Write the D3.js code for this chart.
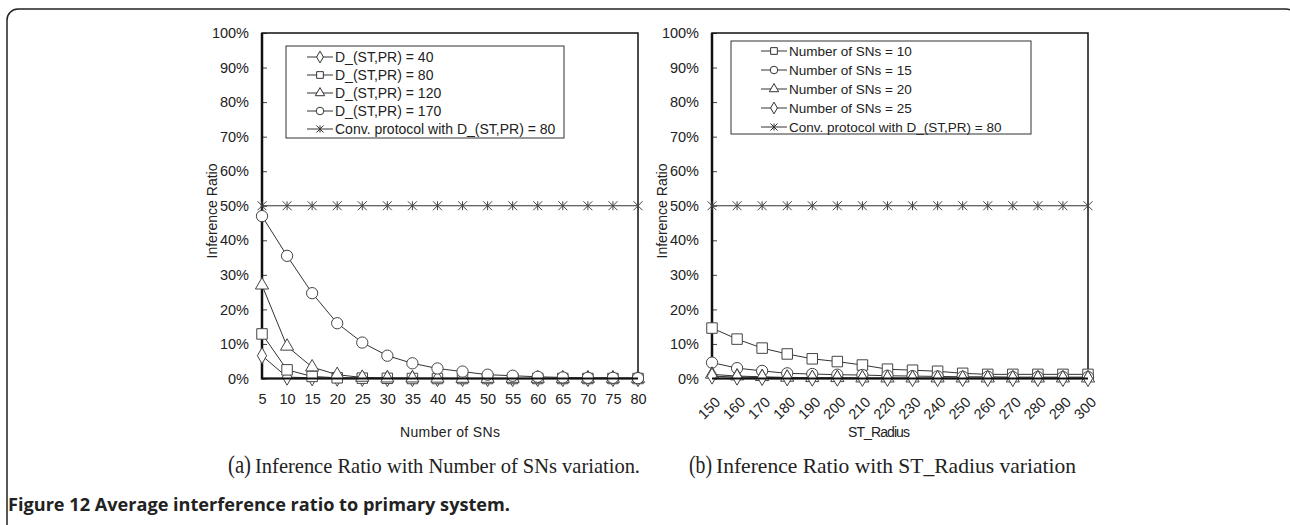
<!DOCTYPE html>
<html>
<head>
<meta charset="utf-8">
<script src="https://cdn.jsdelivr.net/npm/d3@7"></script>
<style>
  body { margin: 0; background: #fff; }
  svg text { font-family: "Liberation Sans", Arial, sans-serif; fill: #222; }
</style>
</head>
<body>
<div id="chart"></div>
<script>
// data (values in %)
var snCounts = [5, 10, 15, 20, 25, 30, 35, 40, 45, 50, 55, 60, 65, 70, 75, 80];
var d40  = [6.6, 0.4, 0.2, 0.1, 0.05, 0, 0, 0, 0, 0, 0, 0, 0, 0, 0, 0];
var d80  = [12.9, 2.5, 0.6, 0.2, 0.1, 0.05, 0, 0, 0, 0, 0, 0, 0, 0, 0, 0];
var d120 = [27, 9.3, 3.3, 1.1, 0.3, 0.1, 0.1, 0.05, 0, 0, 0, 0, 0, 0, 0, 0];
var d170 = [47, 35.5, 24.7, 16, 10.4, 6.6, 4.4, 2.9, 2, 1.1, 0.8, 0.5, 0.3, 0.2, 0.2, 0.1];
var convA = [50, 50, 50, 50, 50, 50, 50, 50, 50, 50, 50, 50, 50, 50, 50, 50];

var radii = [150, 160, 170, 180, 190, 200, 210, 220, 230, 240, 250, 260, 270, 280, 290, 300];
var sn10 = [14.6, 11.4, 8.8, 7.1, 5.7, 4.9, 3.9, 2.7, 2.4, 2.1, 1.5, 1.2, 1.2, 1.2, 1.2, 1.2];
var sn15 = [4.6, 3.0, 2.2, 1.5, 1.3, 1.1, 1.0, 0.8, 0.7, 0.6, 0.5, 0.5, 0.4, 0.4, 0.4, 0.4];
var sn20 = [1.2, 0.7, 0.5, 0.3, 0.2, 0.2, 0.1, 0.1, 0.1, 0.1, 0.1, 0.1, 0.1, 0.1, 0.1, 0.1];
var sn25 = [0.7, 0.4, 0.3, 0.2, 0.1, 0.1, 0.05, 0.05, 0, 0, 0, 0, 0, 0, 0, 0];
var convB = [50, 50, 50, 50, 50, 50, 50, 50, 50, 50, 50, 50, 50, 50, 50, 50];

var yTicks = [0, 10, 20, 30, 40, 50, 60, 70, 80, 90, 100];

var svg = d3.select('#chart').append('svg')
    .attr('width', 1290)
    .attr('height', 525);

// outer rounded frame
svg.append('rect')
    .attr('x', 7).attr('y', 9)
    .attr('width', 1290).attr('height', 540)
    .attr('rx', 11)
    .attr('fill', 'none')
    .attr('stroke', '#222')
    .attr('stroke-width', 1.5);

var star = {
    draw: function(ctx, size) {
        var r = Math.sqrt(size) / 2;
        ctx.moveTo(-r, -r); ctx.lineTo(r, r);
        ctx.moveTo(-r, r); ctx.lineTo(r, -r);
        ctx.moveTo(0, -r); ctx.lineTo(0, r);
    }
};

var shapes = {
    diamond: { type: d3.symbolDiamond, size: 75, legend: 40 },
    square: { type: d3.symbolSquare, size: 110, legend: 45 },
    triangle: { type: d3.symbolTriangle, size: 75, legend: 38 },
    circle: { type: d3.symbolCircle, size: 100, legend: 45 },
    star: { type: star, size: 80, legend: 50 }
};

function drawPanel(opts) {
    var x = d3.scaleLinear().domain(opts.xDomain).range(opts.xRange);
    var y = d3.scaleLinear().domain([0, 100]).range([378.5, 33]);
    var g = svg.append('g');

    // y ticks (inside) and labels
    var yAxis = d3.axisLeft(y).tickValues(yTicks).tickSize(-5).tickPadding(13)
        .tickFormat(function(d) { return d + '%'; });
    var ya = g.append('g').attr('transform', 'translate(' + opts.xRange[0] + ',0)').call(yAxis);
    ya.select('.domain').remove();
    ya.selectAll('line').attr('stroke', '#444');
    ya.selectAll('text').style('font-size', '14.5px').attr('fill', '#222');

    // x ticks and labels
    var xAxis = d3.axisBottom(x).tickValues(opts.xValues).tickSize(0).tickPadding(15);
    var xa = g.append('g').attr('transform', 'translate(0,378.5)').call(xAxis);
    xa.select('.domain').remove();
    xa.selectAll('text').style('font-size', '14.5px').attr('fill', '#222');
    if (opts.rotate) {
        xa.selectAll('text')
            .attr('text-anchor', 'end')
            .attr('dy', '0.35em')
            .attr('y', 0)
            .attr('transform', 'translate(5,21) rotate(-45)');
    }

    // plot box
    g.append('rect')
        .attr('x', opts.xRange[0]).attr('y', 33)
        .attr('width', opts.xRange[1] - opts.xRange[0]).attr('height', 345.5)
        .attr('fill', 'none').attr('stroke', '#111').attr('stroke-width', 1.5);
    g.append('line')
        .attr('x1', opts.xRange[0]).attr('x2', opts.xRange[0])
        .attr('y1', 33).attr('y2', 379.5)
        .attr('stroke', '#111').attr('stroke-width', 2.5);

    // axis titles
    g.append('text')
        .attr('transform', 'translate(' + (opts.xRange[0] - 45) + ',211) rotate(-90)')
        .attr('text-anchor', 'middle')
        .style('font-size', '14px')
        .text('Inference Ratio');
    g.append('text')
        .attr('x', opts.xTitleX).attr('y', 437)
        .attr('text-anchor', 'middle')
        .style('font-size', '14px')
        .attr('textLength', opts.xTitleLen)
        .text(opts.xTitle);

    var line = d3.line()
        .x(function(d) { return x(d[0]); })
        .y(function(d) { return y(d[1]); });

    opts.series.forEach(function(s) {
        var pts = opts.xValues.map(function(v, i) { return [v, s.values[i]]; });
        g.append('path').datum(pts)
            .attr('d', line)
            .attr('fill', 'none').attr('stroke', '#333').attr('stroke-width', 1);
        var sh = shapes[s.shape];
        g.selectAll(null).data(pts).enter().append('path')
            .attr('transform', function(d) { return 'translate(' + x(d[0]) + ',' + y(d[1]) + ')'; })
            .attr('d', d3.symbol().type(sh.type).size(sh.size))
            .attr('fill', s.shape === 'star' ? 'none' : '#fff')
            .attr('stroke', '#444').attr('stroke-width', 1);
    });
    // the zero baseline ends up as a heavy black line
    g.append('line')
        .attr('x1', opts.xRange[0]).attr('x2', opts.xRange[1])
        .attr('y1', 378.5).attr('y2', 378.5)
        .attr('stroke', '#111').attr('stroke-width', 2);

    // legend
    var L = opts.legend;
    g.append('rect')
        .attr('x', L.x).attr('y', L.y).attr('width', L.w).attr('height', L.h)
        .attr('fill', '#fff').attr('stroke', '#333').attr('stroke-width', 1);
    opts.series.forEach(function(s, i) {
        var cy = L.y + L.first + i * L.step;
        var sh = shapes[s.shape];
        g.append('line')
            .attr('x1', L.lx).attr('x2', L.lx + 26)
            .attr('y1', cy).attr('y2', cy)
            .attr('stroke', '#333').attr('stroke-width', 1);
        g.append('path')
            .attr('transform', 'translate(' + (L.lx + 13) + ',' + cy + ')')
            .attr('d', d3.symbol().type(sh.type).size(sh.legend))
            .attr('fill', s.shape === 'star' ? 'none' : '#fff')
            .attr('stroke', '#333').attr('stroke-width', 1);
        g.append('text')
            .attr('x', L.lx + 28).attr('y', cy)
            .attr('dy', '0.35em')
            .style('font-size', L.font)
            .text(s.name);
    });
}

drawPanel({
    xDomain: [5, 80], xRange: [262, 638], xValues: snCounts,
    xTitle: 'Number of SNs', xTitleLen: 100, xTitleX: 450, rotate: false,
    legend: { x: 286, y: 46, w: 278, h: 92, first: 11, step: 18, lx: 307, font: '14px' },
    series: [
        { name: 'D_(ST,PR) = 40', shape: 'diamond', values: d40 },
        { name: 'D_(ST,PR) = 80', shape: 'square', values: d80 },
        { name: 'D_(ST,PR) = 120', shape: 'triangle', values: d120 },
        { name: 'D_(ST,PR) = 170', shape: 'circle', values: d170 },
        { name: 'Conv. protocol with D_(ST,PR) = 80', shape: 'star', values: convA }
    ]
});

drawPanel({
    xDomain: [150, 300], xRange: [712, 1088], xValues: radii,
    xTitle: 'ST_Radius', xTitleLen: 62, xTitleX: 879, rotate: true,
    legend: { x: 731, y: 41, w: 300, h: 93, first: 10, step: 19, lx: 761, font: '13.5px' },
    series: [
        { name: 'Number of SNs = 10', shape: 'square', values: sn10 },
        { name: 'Number of SNs = 15', shape: 'circle', values: sn15 },
        { name: 'Number of SNs = 20', shape: 'triangle', values: sn20 },
        { name: 'Number of SNs = 25', shape: 'diamond', values: sn25 },
        { name: 'Conv. protocol with D_(ST,PR) = 80', shape: 'star', values: convB }
    ]
});

// sub captions: the letter and the text are separate texts
function subCaption(x, letter, rest, restLen) {
    svg.append('text').attr('x', x).attr('y', 473)
        .style('font-family', '"Liberation Serif", "Times New Roman", serif')
        .style('font-size', '26px')
        .attr('textLength', 23).attr('lengthAdjust', 'spacingAndGlyphs')
        .text('(' + letter + ')');
    svg.append('text').attr('x', x + 27).attr('y', 473)
        .style('font-family', '"Liberation Serif", "Times New Roman", serif')
        .style('font-size', '21px')
        .attr('textLength', restLen).attr('lengthAdjust', 'spacingAndGlyphs')
        .text(rest);
}
subCaption(228, 'a', 'Inference Ratio with Number of SNs variation.', 385);
subCaption(689, 'b', 'Inference Ratio with ST_Radius variation', 360);

svg.append('text')
    .attr('x', 8).attr('y', 511)
    .style('font-family', '"Open Sans", sans-serif')
    .style('font-weight', 'bold')
    .style('font-size', '17px')
    .attr('textLength', 502)
    .attr('lengthAdjust', 'spacingAndGlyphs')
    .text('Figure 12 Average interference ratio to primary system.');
</script>
</body>
</html>
